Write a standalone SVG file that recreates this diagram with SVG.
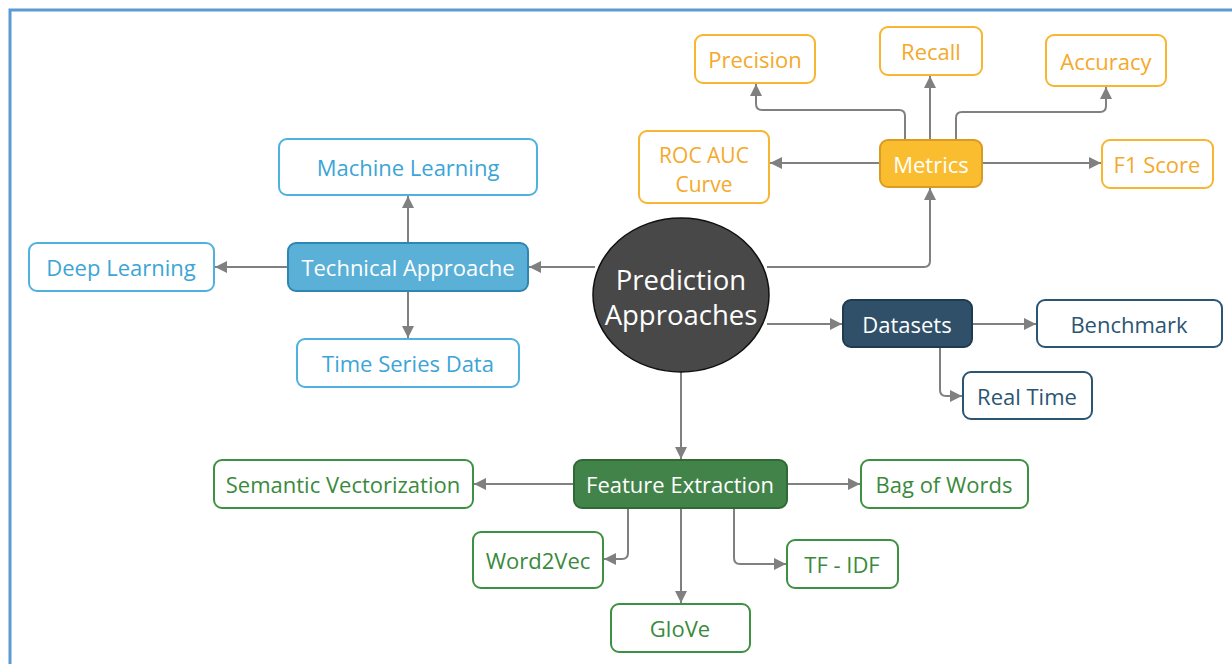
<svg xmlns="http://www.w3.org/2000/svg" width="1232" height="664" viewBox="0 0 1232 664">
  <style>
    text { font-family: "Open Sans", "Noto Sans", "Liberation Sans", sans-serif; font-size: 22px; text-anchor: middle; dominant-baseline: central; }
    .box { stroke-width: 2; }
    .orange-o { fill: #ffffff; stroke: #f8b530; }
    .orange-t { fill: #f4a92a; }
    .blue-o { fill: #ffffff; stroke: #4fb1de; }
    .blue-t { fill: #3ba5d6; }
    .navy-o { fill: #ffffff; stroke: #2b5573; }
    .navy-t { fill: #2b5573; }
    .green-o { fill: #ffffff; stroke: #3f9142; }
    .green-t { fill: #3a8a3c; }
    .white-t { fill: #ffffff; }
    .conn path { fill: none; stroke: #808080; stroke-width: 2; marker-end: url(#arr); }
  </style>
  <defs>
    <marker id="arr" viewBox="0 0 10 10" refX="10" refY="5" markerWidth="6" markerHeight="6" markerUnits="strokeWidth" orient="auto">
      <path d="M0,0 L10,5 L0,10 z" fill="#808080"/>
    </marker>
  </defs>

  <rect width="1232" height="664" fill="#ffffff"/>
  <!-- page frame -->
  <rect x="10" y="10" width="1240" height="680" fill="none" stroke="#5b9bd5" stroke-width="3"/>

  <!-- connectors -->
  <g id="connectors" class="conn">
    <path d="M595,267 L529,267"/>
    <path d="M408,243 L408,196"/>
    <path d="M288,267 L215,267"/>
    <path d="M408,291 L408,338"/>
    <path d="M767,267 L924,267 Q930,267 930,261 L930,188"/>
    <path d="M905,140 L905,116 Q905,110 899,110 L762,110 Q756,110 756,104 L756,84"/>
    <path d="M930,140 L930,76"/>
    <path d="M956,140 L956,118 Q956,112 962,112 L1100,112 Q1106,112 1106,106 L1106,87"/>
    <path d="M880,163 L770,163"/>
    <path d="M982,163 L1101,163"/>
    <path d="M767,324 L842,324"/>
    <path d="M973,324 L1036,324"/>
    <path d="M940,347 L940,390 Q940,396 946,396 L962,396"/>
    <path d="M681,372 L681,459"/>
    <path d="M574,484 L474,484"/>
    <path d="M788,484 L860,484"/>
    <path d="M628,508 L628,553 Q628,559 622,559 L604,559"/>
    <path d="M681,508 L681,603"/>
    <path d="M734,508 L734,558 Q734,564 740,564 L786,564"/>
  </g>

  <!-- centre -->
  <g id="prediction-approaches">
    <ellipse cx="681" cy="295" rx="88" ry="77" fill="#484848" stroke="#111111" stroke-width="1.5"/>
    <text x="681" y="279" class="white-t" style="font-size:27.5px">Prediction</text>
    <text x="681" y="314" class="white-t" style="font-size:27.5px">Approaches</text>
  </g>

  <!-- metrics branch -->
  <g id="metrics">
    <rect class="box" x="880" y="140" width="102" height="47" rx="8" fill="#fbbd30" stroke="#d99b22"/>
    <text x="931" y="164" class="white-t">Metrics</text>
  </g>
  <g id="precision">
    <rect class="box orange-o" x="695" y="35" width="120" height="48" rx="8"/>
    <text x="755" y="59" class="orange-t">Precision</text>
  </g>
  <g id="recall">
    <rect class="box orange-o" x="880" y="27" width="102" height="48" rx="8"/>
    <text x="931" y="51" class="orange-t">Recall</text>
  </g>
  <g id="accuracy">
    <rect class="box orange-o" x="1046" y="35" width="120" height="51" rx="8"/>
    <text x="1106" y="61" class="orange-t">Accuracy</text>
  </g>
  <g id="roc-auc-curve">
    <rect class="box orange-o" x="639" y="131" width="130" height="72" rx="8"/>
    <text x="704" y="154.5" class="orange-t" style="font-size:21px">ROC AUC</text>
    <text x="704" y="183.5" class="orange-t" style="font-size:21px">Curve</text>
  </g>
  <g id="f1-score">
    <rect class="box orange-o" x="1102" y="140" width="111" height="48" rx="8"/>
    <text x="1157" y="164" class="orange-t">F1 Score</text>
  </g>

  <!-- technical branch -->
  <g id="technical-approache">
    <rect class="box" x="288" y="243" width="240" height="48" rx="8" fill="#5ab0d7" stroke="#2e87b3"/>
    <text x="408" y="267" class="white-t">Technical Approache</text>
  </g>
  <g id="machine-learning">
    <rect class="box blue-o" x="279" y="139" width="258" height="56" rx="8"/>
    <text x="408" y="167" class="blue-t">Machine Learning</text>
  </g>
  <g id="deep-learning">
    <rect class="box blue-o" x="29" y="243" width="185" height="48" rx="8"/>
    <text x="121" y="267" class="blue-t">Deep Learning</text>
  </g>
  <g id="time-series-data">
    <rect class="box blue-o" x="297" y="339" width="222" height="48" rx="8"/>
    <text x="408" y="363" class="blue-t">Time Series Data</text>
  </g>

  <!-- datasets branch -->
  <g id="datasets">
    <rect class="box" x="843" y="300" width="129" height="47" rx="8" fill="#30506a" stroke="#1f3b4f"/>
    <text x="907" y="324" class="white-t">Datasets</text>
  </g>
  <g id="benchmark">
    <rect class="box navy-o" x="1037" y="300" width="185" height="47" rx="8"/>
    <text x="1129" y="324" class="navy-t">Benchmark</text>
  </g>
  <g id="real-time">
    <rect class="box navy-o" x="963" y="372" width="129" height="47" rx="8"/>
    <text x="1027" y="396" class="navy-t">Real Time</text>
  </g>

  <!-- feature extraction branch -->
  <g id="feature-extraction">
    <rect class="box" x="574" y="460" width="213" height="48" rx="8" fill="#42834a" stroke="#2f6a36"/>
    <text x="680" y="484" class="white-t">Feature Extraction</text>
  </g>
  <g id="semantic-vectorization">
    <rect class="box green-o" x="214" y="460" width="259" height="48" rx="8"/>
    <text x="343" y="484" class="green-t">Semantic Vectorization</text>
  </g>
  <g id="bag-of-words">
    <rect class="box green-o" x="861" y="460" width="167" height="48" rx="8"/>
    <text x="944" y="484" class="green-t">Bag of Words</text>
  </g>
  <g id="word2vec">
    <rect class="box green-o" x="473" y="532" width="130" height="56" rx="8"/>
    <text x="538" y="560" class="green-t">Word2Vec</text>
  </g>
  <g id="tf-idf">
    <rect class="box green-o" x="787" y="540" width="111" height="48" rx="8"/>
    <text x="842" y="564" class="green-t">TF - IDF</text>
  </g>
  <g id="glove">
    <rect class="box green-o" x="611" y="604" width="139" height="48" rx="8"/>
    <text x="680" y="628" class="green-t">GloVe</text>
  </g>
</svg>
